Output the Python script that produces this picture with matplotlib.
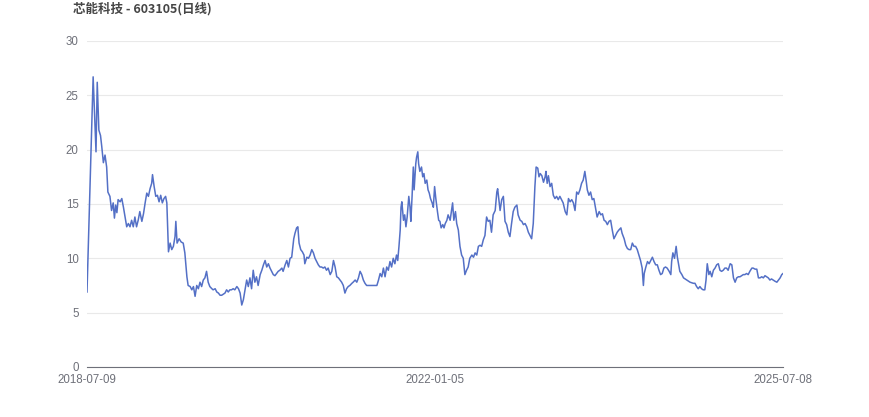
import matplotlib

matplotlib.use("Agg")
import matplotlib.pyplot as plt

plt.rcParams["font.family"] = ["Liberation Sans", "Noto Sans CJK SC", "DejaVu Sans"]

TITLE = "芯能科技 - 603105(日线)"
N_DAYS = 1701
x_labels = ["2018-07-09", "2022-01-05", "2025-07-08"]
y_ticks = [0, 5, 10, 15, 20, 25, 30]

# trading-day index
day_idx = [
    0, 15, 22, 25, 29, 33, 36, 40, 44, 48, 51, 56, 60, 64, 67, 70, 73, 76, 81, 85,
    89, 93, 97, 101, 105, 109, 113, 117, 121, 125, 129, 134, 138, 142, 146, 150, 154, 158, 160, 164,
    168, 172, 176, 180, 184, 188, 192, 195, 197, 199, 203, 207, 211, 215, 217, 220, 225, 230, 235, 239,
    244, 247, 252, 256, 260, 264, 268, 272, 276, 280, 284, 288, 292, 296, 300, 305, 308, 313, 317, 321,
    325, 329, 333, 337, 341, 345, 349, 353, 357, 361, 366, 370, 374, 378, 382, 386, 390, 394, 398, 402,
    406, 410, 414, 418, 423, 427, 431, 435, 439, 443, 447, 451, 455, 459, 463, 467, 471, 476, 479, 484,
    488, 492, 496, 500, 502, 505, 508, 512, 515, 518, 522, 526, 530, 532, 537, 541, 545, 549, 553, 557,
    561, 565, 569, 573, 577, 581, 585, 589, 594, 598, 602, 606, 610, 614, 618, 622, 626, 630, 634, 638,
    642, 647, 650, 655, 659, 663, 667, 671, 675, 679, 683, 687, 691, 695, 699, 703, 708, 712, 716, 720,
    724, 728, 732, 736, 740, 744, 748, 752, 756, 759, 762, 765, 767, 769, 773, 776, 779, 782, 786, 789,
    791, 794, 797, 799, 803, 805, 808, 810, 813, 817, 820, 823, 826, 830, 833, 836, 839, 843, 846, 849,
    852, 856, 859, 862, 865, 869, 872, 875, 879, 882, 887, 891, 893, 896, 900, 903, 907, 911, 915, 919,
    923, 927, 931, 935, 940, 944, 948, 952, 956, 960, 964, 968, 972, 976, 980, 984, 988, 992, 997, 1001,
    1003, 1006, 1009, 1013, 1017, 1021, 1025, 1029, 1033, 1037, 1041, 1045, 1050, 1053, 1058, 1062, 1066, 1070, 1074, 1078,
    1082, 1086, 1090, 1094, 1097, 1101, 1104, 1107, 1111, 1115, 1119, 1121, 1124, 1127, 1131, 1135, 1139, 1143, 1147, 1151,
    1155, 1159, 1163, 1168, 1172, 1176, 1180, 1184, 1188, 1192, 1196, 1200, 1204, 1208, 1212, 1216, 1219, 1222, 1226, 1230,
    1234, 1238, 1243, 1246, 1251, 1255, 1259, 1263, 1267, 1271, 1275, 1279, 1283, 1287, 1291, 1295, 1299, 1304, 1307, 1312,
    1316, 1320, 1324, 1328, 1332, 1336, 1340, 1344, 1348, 1352, 1356, 1359, 1361, 1365, 1369, 1373, 1377, 1381, 1385, 1389,
    1393, 1397, 1401, 1405, 1409, 1413, 1417, 1422, 1426, 1428, 1431, 1435, 1439, 1442, 1446, 1448, 1453, 1457, 1465, 1473,
    1481, 1485, 1489, 1493, 1497, 1501, 1505, 1509, 1512, 1515, 1519, 1522, 1526, 1530, 1534, 1538, 1542, 1546, 1550, 1554,
    1558, 1562, 1566, 1571, 1575, 1579, 1583, 1587, 1591, 1595, 1599, 1603, 1607, 1611, 1615, 1619, 1624, 1627, 1632, 1636,
    1640, 1644, 1648, 1652, 1656, 1660, 1664, 1668, 1672, 1676, 1680, 1685, 1689, 1693, 1697, 1700,
]

# close price
close = [
    6.9, 26.7, 19.8, 26.2, 21.8, 21.3, 20.3, 18.8, 19.5, 18.4, 16.1, 15.7, 14.4, 15.1, 13.7, 14.9, 14.2, 15.4, 15.2, 15.5,
    14.7, 13.8, 12.9, 13.2, 12.9, 13.5, 12.9, 13.8, 12.9, 13.5, 14.3, 13.4, 14.1, 15.1, 16.0, 15.7, 16.4, 16.9, 17.7, 16.6,
    15.7, 15.8, 15.2, 15.8, 15.1, 15.5, 15.7, 15.1, 12.9, 10.6, 11.4, 10.8, 11.1, 12.0, 13.4, 11.4, 11.8, 11.5, 11.4, 10.5,
    8.3, 7.5, 7.4, 7.1, 7.4, 6.5, 7.5, 7.2, 7.8, 7.4, 8.0, 8.2, 8.8, 7.8, 7.4, 7.2, 7.1, 7.2, 6.9, 6.8,
    6.6, 6.6, 6.7, 6.8, 7.1, 6.9, 7.1, 7.1, 7.2, 7.1, 7.4, 7.2, 6.8, 5.7, 6.2, 7.1, 8.0, 7.4, 8.2, 7.2,
    8.9, 7.8, 8.3, 7.5, 8.5, 8.9, 9.4, 9.8, 9.2, 9.5, 9.1, 8.8, 8.5, 8.4, 8.6, 8.8, 8.9, 9.1, 8.8, 9.4,
    9.8, 9.2, 10.0, 10.1, 10.8, 11.8, 12.3, 12.8, 12.9, 11.4, 10.8, 10.6, 10.3, 9.5, 10.1, 10.0, 10.3, 10.8, 10.5, 10.0,
    9.7, 9.4, 9.2, 9.2, 9.1, 9.2, 8.9, 9.1, 8.5, 8.8, 9.8, 9.2, 8.3, 8.2, 8.0, 7.8, 7.5, 6.8, 7.2, 7.4,
    7.5, 7.7, 7.8, 8.0, 7.8, 8.2, 8.8, 8.5, 8.0, 7.7, 7.5, 7.5, 7.5, 7.5, 7.5, 7.5, 7.5, 8.0, 8.6, 8.3,
    9.1, 8.3, 9.2, 8.9, 9.7, 9.2, 10.0, 9.5, 10.3, 9.8, 11.1, 12.6, 14.7, 15.2, 13.5, 14.0, 12.9, 13.8, 15.7, 14.7,
    13.4, 15.7, 18.4, 16.3, 18.7, 19.3, 19.8, 18.7, 18.0, 18.4, 17.5, 17.8, 16.9, 17.2, 16.3, 16.0, 15.5, 15.1, 14.7, 16.6,
    15.5, 14.3, 13.5, 13.4, 12.8, 13.1, 12.8, 13.2, 13.5, 14.0, 13.5, 14.6, 15.1, 13.5, 14.3, 13.2, 12.6, 11.1, 10.3, 10.0,
    8.5, 8.9, 9.2, 10.0, 10.3, 10.1, 10.5, 10.3, 11.1, 11.2, 11.1, 11.7, 12.1, 13.8, 13.4, 13.5, 12.4, 14.0, 14.4, 16.1,
    16.4, 15.4, 14.4, 15.4, 15.7, 13.4, 13.1, 12.4, 12.0, 13.2, 14.3, 14.7, 14.9, 14.0, 13.5, 13.4, 13.1, 13.2, 12.9, 12.4,
    12.1, 11.8, 13.2, 16.6, 18.4, 18.3, 17.5, 17.8, 17.6, 17.0, 17.5, 18.0, 16.9, 17.6, 16.6, 16.9, 15.8, 15.5, 15.7, 15.4,
    15.7, 15.4, 15.1, 14.3, 14.0, 15.5, 15.2, 15.4, 15.1, 14.4, 16.1, 15.9, 16.3, 16.9, 17.2, 18.0, 17.2, 16.3, 15.8, 16.1,
    15.4, 15.5, 14.4, 13.8, 14.3, 14.0, 14.1, 13.5, 13.4, 13.1, 13.4, 13.5, 12.6, 11.8, 12.1, 12.4, 12.6, 12.8, 12.3, 11.8,
    11.2, 10.9, 10.8, 10.8, 11.4, 11.1, 11.1, 10.8, 10.3, 9.8, 9.1, 7.5, 8.6, 9.2, 9.7, 9.5, 9.8, 10.1, 9.7, 9.4,
    9.4, 8.9, 8.5, 8.6, 9.1, 9.2, 9.1, 8.8, 8.5, 9.7, 10.5, 10.0, 11.1, 10.1, 9.2, 8.8, 8.5, 8.2, 8.0, 7.8,
    7.7, 7.7, 7.4, 7.2, 7.4, 7.2, 7.1, 7.1, 8.0, 9.5, 8.5, 8.8, 8.3, 8.9, 9.1, 9.4, 9.5, 8.9, 8.8, 8.9,
    9.1, 9.1, 8.9, 9.5, 9.4, 8.2, 7.8, 8.2, 8.3, 8.3, 8.4, 8.5, 8.5, 8.6, 8.5, 8.8, 9.1, 9.1, 9.0, 9.0,
    8.2, 8.2, 8.3, 8.2, 8.4, 8.3, 8.2, 8.0, 8.1, 8.0, 7.9, 7.8, 8.0, 8.2, 8.5, 8.6,
]

LINE = "#5470C6"
GRID = "#E9E9E9"
LABEL = "#6E7079"

fig = plt.figure(figsize=(8.7, 4.17), dpi=100)
ax = fig.add_axes([0.1, 0.12, 0.8, 0.7817])

ax.plot(day_idx, close, color=LINE, linewidth=1.1, solid_joinstyle="round", zorder=3)

ax.set_xlim(0, N_DAYS - 1)
ax.set_ylim(0, 30)
ax.set_yticks(y_ticks)
ax.set_xticks([0, (N_DAYS - 1) / 2, N_DAYS - 1])
ax.set_xticklabels(x_labels)

ax.grid(axis="y", color=GRID, linewidth=0.8, zorder=0)
for side in ("top", "right", "left"):
    ax.spines[side].set_visible(False)
ax.spines["bottom"].set_color(LABEL)
ax.spines["bottom"].set_linewidth(0.8)
ax.tick_params(axis="both", length=0, colors=LABEL, labelsize=8.3)
ax.tick_params(axis="y", pad=6)
ax.tick_params(axis="x", pad=5)

fig.text(0.084, 0.978, TITLE, ha="left", va="center", fontsize=9, fontweight="bold",
         color="#464646", family=["Noto Sans CJK SC", "DejaVu Sans"])

fig.savefig("out.png", dpi=100, facecolor="white")
